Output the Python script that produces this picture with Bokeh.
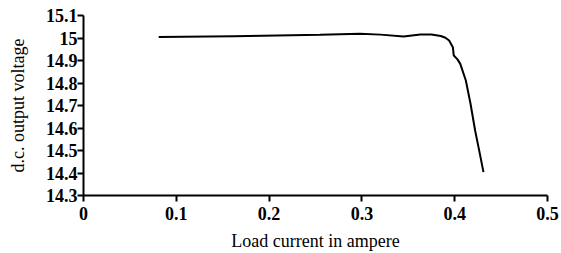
from bokeh.plotting import figure
from bokeh.models import Range1d, FixedTicker
from bokeh.embed import file_html
from bokeh.resources import INLINE

current = [0.081, 0.162, 0.255, 0.298, 0.320, 0.345, 0.363, 0.375, 0.385, 0.390, 0.394, 0.398,
           0.399, 0.403, 0.406, 0.412, 0.417, 0.422, 0.427, 0.431]
voltage = [15.004, 15.008, 15.014, 15.019, 15.015, 15.007, 15.016, 15.016, 15.009, 15.001, 14.989, 14.959,
           14.922, 14.905, 14.885, 14.811, 14.709, 14.589, 14.487, 14.404]
x_ticks = [0, 0.1, 0.2, 0.3, 0.4, 0.5]
y_ticks = [14.3, 14.4, 14.5, 14.6, 14.7, 14.8, 14.9, 15.0, 15.1]
y_labels = {14.3: "14.3", 14.4: "14.4", 14.5: "14.5", 14.6: "14.6", 14.7: "14.7",
            14.8: "14.8", 14.9: "14.9", 15.0: "15", 15.1: "15.1"}

p = figure(width=560, height=253, output_backend="svg", toolbar_location=None,
           x_range=Range1d(0, 0.5), y_range=Range1d(14.3, 15.1),
           min_border_left=83, min_border_right=13, min_border_top=15, min_border_bottom=58)
p.outline_line_color = None
p.grid.grid_line_color = None

p.line(current, voltage, line_color="black", line_width=2)

font = "Liberation Serif"
for ax in (p.xaxis[0], p.yaxis[0]):
    ax.axis_line_width = 2
    ax.axis_line_color = "black"
    ax.major_tick_line_width = 2
    ax.major_tick_line_color = "black"
    ax.major_tick_out = 6
    ax.major_tick_in = 0
    ax.minor_tick_line_color = None
    ax.major_label_text_font = font
    ax.major_label_text_font_size = "18px"
    ax.major_label_text_font_style = "bold"
    ax.major_label_text_color = "black"
    ax.axis_label_text_font = font
    ax.axis_label_text_font_size = "18px"
    ax.axis_label_text_font_style = "normal"
    ax.axis_label_text_color = "black"

p.xaxis.ticker = FixedTicker(ticks=x_ticks)
p.yaxis.ticker = FixedTicker(ticks=y_ticks)
p.yaxis.major_label_overrides = y_labels
p.xaxis.major_label_overrides = {0: "0", 0.1: "0.1", 0.2: "0.2", 0.3: "0.3", 0.4: "0.4", 0.5: "0.5"}
p.xaxis.axis_label = "Load current in ampere"
p.yaxis.axis_label = "d.c. output voltage"
p.xaxis.major_label_standoff = 5
p.yaxis.major_label_standoff = 0
p.xaxis.axis_label_standoff = 8
p.yaxis.axis_label_standoff = 15

open("out.html", "w").write(file_html(p, INLINE))
